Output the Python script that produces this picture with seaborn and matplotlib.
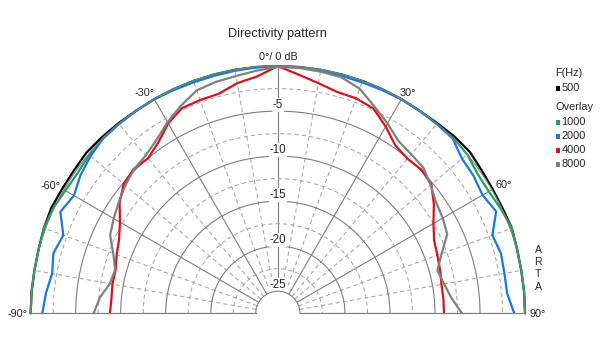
import numpy as np
import pandas as pd
import matplotlib
matplotlib.use("Agg")
import matplotlib.pyplot as plt
import seaborn as sns
from matplotlib.patches import Rectangle

# ---------------- data (dB relative to on-axis, angles in degrees) ----------------
angles_deg = list(range(-90, 95, 5))

db_500 = [0, 0, 0, 0.05, 0.2, 0.3, 0.2, 0.2, 0.3, 0.2, 0.1,
          0, 0, 0, 0, 0, 0, 0, 0, 0, 0, 0, 0, 0, 0, 0,
          0.1, 0.3, 0.4, 0.2, 0.1, 0.1, 0.2, 0.05, 0, 0, 0]
db_1000 = [0, 0, 0, 0.05, 0.2, 0.1, -0.2, -0.3, -0.1, 0, 0,
           0, 0, 0, 0, 0, 0, 0, 0, 0, 0, 0, 0, 0, 0, 0,
           0, 0.1, 0, -0.4, -0.4, -0.1, 0.2, 0.05, 0, 0, 0]
db_2000 = [-1.3, -1.6, -2.0, -1.65, -2.1, -0.8, -1.3, -0.7, -0.3, 0, 0,
           0, 0, -0.1, -0.15, -0.15, -0.1, -0.05, 0, -0.05, -0.1, -0.15, -0.15, -0.1, 0, 0,
           0, 0, -0.75, -0.9, -1.2, -0.7, -2.1, -1.8, -1.9, -1.9, -1.2]
db_4000 = [-8.8, -8.9, -8.8, -8.8, -8.4, -8.0, -7.2, -6.0, -5.1, -4.8, -5.0,
           -4.3, -3.1, -2.3, -2.25, -2.2, -1.5, -1.05, 0, -0.85, -1.5, -2.0, -2.05, -2.35, -3.5, -4.7,
           -5.05, -4.9, -5.2, -6.3, -7.5, -8.3, -8.6, -8.8, -9.0, -9.0, -9.0]
db_8000 = [-7.0, -7.6, -8.5, -8.75, -8.0, -6.9, -6.4, -5.9, -5.35, -4.85, -4.6,
           -3.95, -2.95, -2.0, -1.1, -0.85, -0.7, -0.4, -0.1, -0.1, -0.2, -0.3, -0.9, -2.1, -3.1, -4.1,
           -4.4, -4.6, -5.3, -6.0, -6.3, -6.7, -8.1, -9.1, -8.7, -8.1, -7.0]

freqs = ["500", "1000", "2000", "4000", "8000"]
colors = ["#000000", "#1ba35e", "#1a78dc", "#d4141c", "#808080"]
series = [db_500, db_1000, db_2000, db_4000, db_8000]

ring_labels = [-5, -10, -15, -20, -25]
angle_labels = ["-90°", "-60°", "-30°", "0°/ 0 dB", "30°", "60°", "90°"]

# ---------------- build dataframe ----------------
rows = []
for f, vals in zip(freqs, series):
    for a, v in zip(angles_deg, vals):
        rows.append({"theta": np.deg2rad(a), "dB": v, "F": f})
df = pd.DataFrame(rows)

sns.set_style("white")
plt.rcParams["font.family"] = ["Liberation Sans", "DejaVu Sans"]

W, H = 609, 347
fig = plt.figure(figsize=(W / 100, H / 100), dpi=100)

cx, cy, R = 277.85, 313.3, 247.2
side = 2 * R
box_bottom_px = cy + R / 2  # from top
ax = fig.add_axes([(cx - R) / W, (H - box_bottom_px) / H, side / W, side / H], projection="polar")
ax.set_theta_zero_location("N")
ax.set_theta_direction(-1)
ax.set_thetamin(-90)
ax.set_thetamax(90)

sns.lineplot(data=df, x="theta", y="dB", hue="F", hue_order=freqs,
             palette=dict(zip(freqs, colors)), sort=False, estimator=None,
             legend=False, ax=ax, linewidth=1.6, clip_on=False)

ax.set_ylim(-25, 0)
ax.set_rorigin(-27.45)
ax.set_xlabel("")
ax.set_ylabel("")

# grid
solid_c, dash_c = "#7d7d7d", "#a3a3a3"
ax.set_xticks(np.deg2rad([-90, -60, -30, 0, 30, 60, 90]))
ax.set_xticks(np.deg2rad([-80, -70, -50, -40, -20, -10, 10, 20, 40, 50, 70, 80]), minor=True)
ax.set_yticks([-20, -15, -10, -5])
ax.set_yticks([-22.5, -17.5, -12.5, -7.5, -2.5], minor=True)
ax.set_xticklabels([])
ax.set_yticklabels([])
ax.tick_params(length=0, which="both")
ax.grid(True, which="major", color=solid_c, linewidth=0.8, linestyle="-")
ax.grid(True, which="minor", color=dash_c, linewidth=0.75, linestyle=(0, (4, 3)))
ax.set_axisbelow(True)
for sp in ax.spines.values():
    sp.set_color(solid_c)
    sp.set_linewidth(0.8)

# radial labels
for v in ring_labels:
    ax.text(0, v + 0.7, str(v), ha="center", va="center", fontsize=8.3,
            bbox=dict(facecolor="white", edgecolor="none", pad=0.6), zorder=1.5)

# angle labels (pixel positions)
ang_pos = [(17.5, 314), (51, 186), (145, 92.7), (278, 57.3), (408, 92.7), (504, 185), (538, 314)]
for (x, y), t in zip(ang_pos, angle_labels):
    fig.text(x / W, 1 - y / H, t, ha="center", va="center", fontsize=7.8)

fig.text(277.5 / W, 1 - 34 / H, "Directivity pattern", ha="center", va="center", fontsize=9.2)

# legend
fig.text(555 / W, 1 - 73 / H, "F(Hz)", ha="left", va="center", fontsize=7.9)
fig.text(555 / W, 1 - 107 / H, "Overlay", ha="left", va="center", fontsize=7.9)
leg_y = [88, 122, 136, 150, 164]
for f, c, y in zip(freqs, colors, leg_y):
    fig.add_artist(Rectangle((556 / W, 1 - (y + 2.5) / H), 4 / W, 4.5 / H,
                             transform=fig.transFigure, facecolor=c, edgecolor="none"))
    fig.text(561.5 / W, 1 - y / H, f, ha="left", va="center", fontsize=7.9)

for ch, y in zip("ARTA", [250, 262, 274, 287]):
    fig.text(538 / W, 1 - y / H, ch, ha="center", va="center", fontsize=7.6)

fig.savefig("out.png", dpi=100)
